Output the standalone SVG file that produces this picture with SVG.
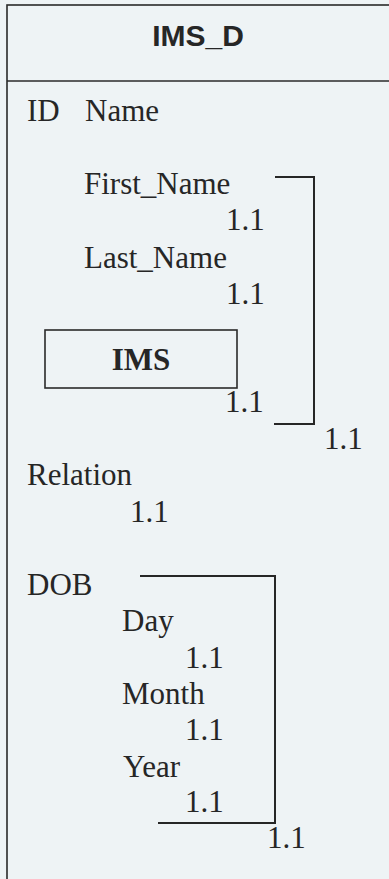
<svg xmlns="http://www.w3.org/2000/svg" width="389" height="879" viewBox="0 0 389 879">
<style>
.bg{fill:#eef3f5}
.frame{fill:none;stroke:#2a2a2a;stroke-width:1.6}
.ln{fill:none;stroke:#262626;stroke-width:2}
.t{font-family:"Liberation Serif","Times New Roman",serif;font-size:31px;fill:#262626}
.b{font-weight:bold}
.title{font-family:"Liberation Sans",Arial,sans-serif;font-size:30px;font-weight:bold;fill:#262626}
</style>
<rect class="bg" x="0" y="0" width="389" height="879"/>
<g id="entity-IMS_D">
<rect class="frame" x="7" y="5" width="390" height="890"/>
<line class="frame" x1="7" y1="81" x2="389" y2="81"/>
<text class="title" x="198" y="46" text-anchor="middle">IMS_D</text>
</g>
<g id="attr-ID"><text class="t" x="27" y="121">ID</text></g>
<g id="attr-Name"><text class="t" x="85" y="121">Name</text></g>
<g id="attr-First_Name"><text class="t" x="84" y="194">First_Name</text><text class="t" x="226" y="230">1.1</text></g>
<g id="attr-Last_Name"><text class="t" x="84" y="268">Last_Name</text><text class="t" x="226" y="304">1.1</text></g>
<g id="entity-IMS">
<rect class="frame" x="45" y="330" width="192" height="58"/>
<text class="t b" x="141" y="370" text-anchor="middle">IMS</text>
<text class="t" x="225" y="412">1.1</text>
</g>
<g id="attr-Relation"><text class="t" x="27" y="485">Relation</text><text class="t" x="130" y="522">1.1</text></g>
<g id="attr-DOB"><text class="t" x="27" y="595">DOB</text></g>
<g id="attr-Day"><text class="t" x="122" y="631">Day</text><text class="t" x="185" y="668">1.1</text></g>
<g id="attr-Month"><text class="t" x="122" y="704">Month</text><text class="t" x="185" y="740">1.1</text></g>
<g id="attr-Year"><text class="t" x="123" y="777">Year</text><text class="t" x="185" y="812">1.1</text></g>
<g id="connectors">
<polyline class="ln" points="275,177 314,177 314,424 274,424"/>
<text class="t" x="324" y="449">1.1</text>
<polyline class="ln" points="140,576 275,576 275,823 158,823"/>
<text class="t" x="267" y="848">1.1</text>
</g>
</svg>
